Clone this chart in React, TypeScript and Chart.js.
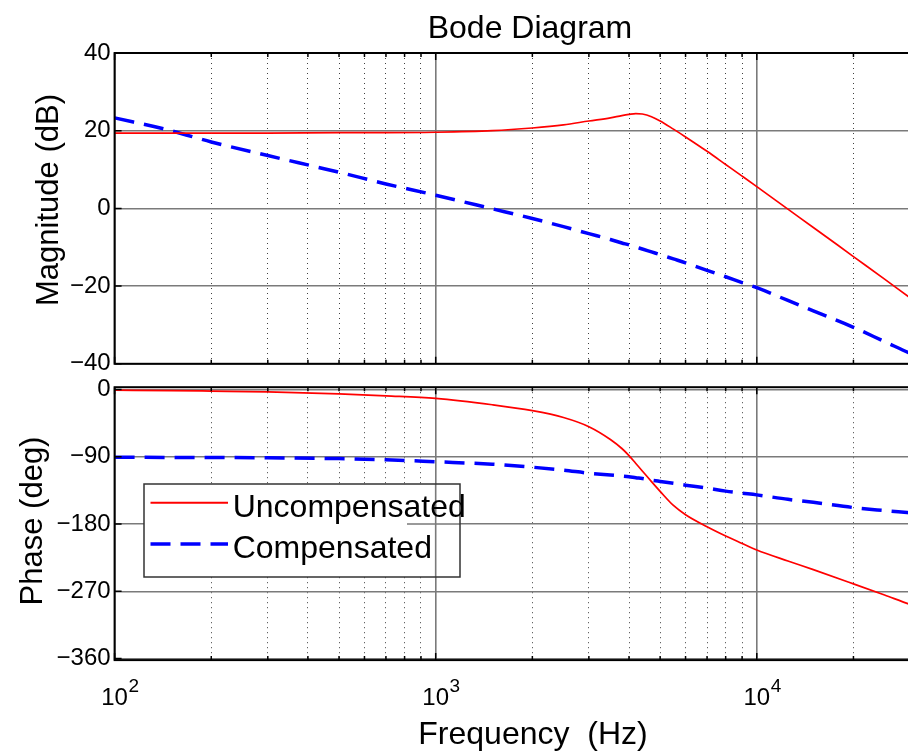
import React, { useEffect, useRef } from 'react';
import { Chart, registerables } from 'chart.js';

Chart.register(...registerables);

const FONT = '"Liberation Sans", Arial, Helvetica, sans-serif';

// Frequencies (Hz)
const freqs = [100, 150, 200, 300, 500, 700, 1000, 1500, 2000, 2500, 3000, 3500, 3800, 4000, 4200, 4400, 4700, 5000, 5500, 6000, 7000, 8000, 9000, 10000, 12500, 15000, 20000, 25000, 30000, 40000];

// Magnitude (dB)
const uncompMag = [19.4, 19.4, 19.4, 19.4, 19.5, 19.5, 19.6, 20.0, 20.7, 21.5, 22.5, 23.3, 23.9, 24.2, 24.4, 24.3, 23.6, 22.5, 20.4, 18.4, 14.7, 11.3, 8.3, 5.6, -0.2, -4.9, -12.4, -18.2, -23.0, -30.5];
const compMag = [23.3, 20.0, 17.1, 13.6, 9.3, 6.3, 3.4, -0.1, -2.6, -4.7, -6.5, -8.0, -8.9, -9.4, -9.95, -10.45, -11.2, -11.9, -13.0, -14.0, -15.95, -17.6, -19.1, -20.4, -23.7, -26.4, -30.6, -34.3, -37.3, -42.3];

// Phase (deg)
const uncompPhase = [-1, -1.5, -2.2, -3.3, -5.8, -8.5, -12, -20.5, -28.4, -37.5, -49.8, -66.9, -79, -88.5, -99, -109, -123.3, -136.3, -155.2, -167.5, -183.6, -196, -206, -214.8, -229.5, -241, -260, -275, -287.5, -305];
const compPhase = [-90.8, -90.9, -91, -91.5, -92.5, -94, -96.7, -100, -104, -108, -112, -114.5, -115.8, -116.7, -118, -119, -121.3, -123, -125.5, -128, -132, -136, -138.7, -141, -147, -151, -158, -162, -165, -170];

// Axis ticks
const magTicks = [-40, -20, 0, 20, 40];
const phaseTicks = [-360, -270, -180, -90, 0];
const decadeTicks = [100, 1000, 10000];
const decadeExponents = ['2', '3', '4'];
const minorMultipliers = [1, 2, 3, 4, 5, 6, 7, 8, 9];
const xTickValues = decadeTicks.flatMap((d) => minorMultipliers.map((m) => m * d)).filter((v) => v <= 40000);

const seriesLabels = ['Uncompensated', 'Compensated'];
const RED = '#ff0000';
const BLUE = '#0000ff';
const GRID = '#7a7a7a';
const BLUE_DASH = [20, 10];

const isMajor = (v: any) => decadeTicks.includes(v);
const fmt = (v: number) => (v < 0 ? '\u2212' + Math.abs(v) : String(v));

function xAxis(height: number) {
  return {
    type: 'logarithmic',
    min: 100,
    max: 40000,
    ticks: { display: false },
    afterBuildTicks: (s: any) => {
      s.ticks = xTickValues.map((v) => ({ value: v }));
    },
    afterFit: (s: any) => {
      s.height = height;
    },
    grid: {
      drawTicks: false,
      color: (c: any) => (isMajor(c.tick?.value) ? GRID : 'rgba(0,0,0,0.75)'),
      lineWidth: (c: any) => (isMajor(c.tick?.value) ? 1.6 : 1),
    },
    border: {
      display: false,
      dash: (c: any) => (c.tick && !isMajor(c.tick.value) ? [1, 4] : []),
    },
  };
}

function yAxis(min: number, max: number, ticks: number[]) {
  return {
    min,
    max,
    afterBuildTicks: (s: any) => {
      s.ticks = ticks.map((v) => ({ value: v }));
    },
    afterFit: (s: any) => {
      s.width = 114.6;
    },
    ticks: {
      padding: 4,
      color: '#000',
      font: { family: FONT, size: 24 },
      callback: (v: any) => fmt(Number(v)),
      autoSkip: false,
    },
    grid: { drawTicks: false, color: GRID, lineWidth: 1.6 },
    border: { display: false },
  };
}

const framePlugin = {
  id: 'frame',
  afterDraw(chart: any) {
    const { ctx, chartArea: ca, scales } = chart;
    ctx.save();
    ctx.strokeStyle = '#000';
    ctx.lineWidth = 1.5;
    ctx.beginPath();
    scales.x.ticks.forEach((t: any) => {
      const px = scales.x.getPixelForValue(t.value);
      const len = isMajor(t.value) ? 7 : 4;
      ctx.moveTo(px, ca.bottom);
      ctx.lineTo(px, ca.bottom - len);
      ctx.moveTo(px, ca.top);
      ctx.lineTo(px, ca.top + len);
    });
    scales.y.ticks.forEach((t: any) => {
      const py = scales.y.getPixelForValue(t.value);
      ctx.moveTo(ca.left, py);
      ctx.lineTo(ca.left + 7, py);
      ctx.moveTo(ca.right, py);
      ctx.lineTo(ca.right - 7, py);
    });
    ctx.stroke();
    ctx.lineWidth = 2;
    ctx.strokeRect(ca.left, ca.top, ca.right - ca.left, ca.bottom - ca.top);
    ctx.restore();
  },
};

function rotatedText(ctx: CanvasRenderingContext2D, text: string, baseX: number, centerY: number) {
  ctx.save();
  ctx.translate(baseX, centerY);
  ctx.rotate(-Math.PI / 2);
  ctx.textAlign = 'center';
  ctx.textBaseline = 'alphabetic';
  ctx.fillText(text, 0, 0);
  ctx.restore();
}

const magTextPlugin = {
  id: 'magText',
  afterDraw(chart: any) {
    const { ctx } = chart;
    ctx.save();
    ctx.fillStyle = '#000';
    ctx.font = `32px ${FONT}`;
    ctx.textAlign = 'center';
    ctx.textBaseline = 'alphabetic';
    ctx.fillText('Bode Diagram', 530, 38);
    ctx.font = `31px ${FONT}`;
    rotatedText(ctx, 'Magnitude (dB)', 58, 200);
    ctx.restore();
  },
};

const PH_TOP = 365;

const phaseTextPlugin = {
  id: 'phaseText',
  afterDraw(chart: any) {
    const { ctx, scales } = chart;
    ctx.save();
    ctx.fillStyle = '#000';
    ctx.font = `31px ${FONT}`;
    rotatedText(ctx, 'Phase (deg)', 42, 521 - PH_TOP);
    ctx.font = `32px ${FONT}`;
    ctx.textAlign = 'center';
    ctx.textBaseline = 'alphabetic';
    ctx.fillText('Frequency  (Hz)', 533, 744 - PH_TOP);

    // decade tick labels 10^n
    decadeTicks.forEach((d, i) => {
      const px = scales.x.getPixelForValue(d);
      ctx.font = `24px ${FONT}`;
      ctx.textAlign = 'center';
      ctx.fillText('10', px, 705 - PH_TOP);
      const w = ctx.measureText('10').width;
      ctx.font = `19px ${FONT}`;
      ctx.textAlign = 'left';
      ctx.fillText(decadeExponents[i], px + w / 2 + 0.5, 692 - PH_TOP);
    });

    // legend
    const bx = 144, by = 484 - PH_TOP, bw = 316, bh = 93;
    ctx.fillStyle = '#fff';
    ctx.fillRect(bx, by, bw, bh);
    // grid lines showing through the legend box, as in the original render
    ctx.strokeStyle = GRID;
    ctx.lineWidth = 1.6;
    ctx.beginPath();
    const x3 = scales.x.getPixelForValue(1000);
    ctx.moveTo(x3, by);
    ctx.lineTo(x3, by + bh);
    const y180 = scales.y.getPixelForValue(-180);
    ctx.moveTo(407, y180);
    ctx.lineTo(bx + bw, y180);
    ctx.stroke();
    ctx.strokeStyle = '#333';
    ctx.lineWidth = 1.5;
    ctx.strokeRect(bx, by, bw, bh);
    ctx.lineWidth = 2;
    ctx.strokeStyle = RED;
    ctx.beginPath();
    ctx.moveTo(150.5, 502.7 - PH_TOP);
    ctx.lineTo(228, 502.7 - PH_TOP);
    ctx.stroke();
    ctx.lineWidth = 3.5;
    ctx.strokeStyle = BLUE;
    ctx.setLineDash(BLUE_DASH);
    ctx.beginPath();
    ctx.moveTo(150.5, 544 - PH_TOP);
    ctx.lineTo(228, 544 - PH_TOP);
    ctx.stroke();
    ctx.setLineDash([]);
    ctx.fillStyle = '#000';
    ctx.font = `32px ${FONT}`;
    ctx.textAlign = 'left';
    ctx.fillText(seriesLabels[0], 232.7, 517 - PH_TOP);
    ctx.fillText(seriesLabels[1], 232.7, 558 - PH_TOP);
    ctx.restore();
  },
};

function datasets(a: number[], b: number[]) {
  return [
    {
      label: seriesLabels[0],
      data: freqs.map((f, i) => ({ x: f, y: a[i] })),
      borderColor: RED,
      borderWidth: 1.7,
      pointRadius: 0,
      cubicInterpolationMode: 'monotone',
      fill: false,
    },
    {
      label: seriesLabels[1],
      data: freqs.map((f, i) => ({ x: f, y: b[i] })),
      borderColor: BLUE,
      borderWidth: 3.5,
      borderDash: BLUE_DASH,
      pointRadius: 0,
      cubicInterpolationMode: 'monotone',
      fill: false,
    },
  ];
}

const commonOptions = (padTop: number) => ({
  responsive: false,
  animation: false,
  devicePixelRatio: 1,
  layout: { padding: { top: padTop, left: 0, right: 9.9, bottom: 0 } },
  plugins: {
    legend: { display: false },
    title: { display: false },
    tooltip: { enabled: false },
  },
  events: [],
});

export default function App() {
  const magRef = useRef<HTMLCanvasElement>(null);
  const phRef = useRef<HTMLCanvasElement>(null);

  useEffect(() => {
    const magChart = new Chart(magRef.current as HTMLCanvasElement, {
      type: 'line',
      data: { datasets: datasets(uncompMag, compMag) as any },
      options: {
        ...(commonOptions(53) as any),
        scales: {
          x: xAxis(390 - 363.8) as any,
          y: yAxis(-40, 40, magTicks) as any,
        },
      },
      plugins: [framePlugin, magTextPlugin],
    });
    const phChart = new Chart(phRef.current as HTMLCanvasElement, {
      type: 'line',
      data: { datasets: datasets(uncompPhase, compPhase) as any },
      options: {
        ...(commonOptions(387.2 - PH_TOP) as any),
        scales: {
          x: xAxis(386 - (660.1 - PH_TOP)) as any,
          y: yAxis(-362, 3, phaseTicks) as any,
        },
      },
      plugins: [framePlugin, phaseTextPlugin],
    });
    return () => {
      magChart.destroy();
      phChart.destroy();
    };
  }, []);

  return (
    <div style={{ position: 'fixed', left: 0, top: 0, width: 908, height: 751, overflow: 'hidden', background: '#fff' }}>
      <canvas ref={magRef} width={960} height={390} style={{ position: 'absolute', left: 0, top: 0 }} />
      <canvas ref={phRef} width={960} height={386} style={{ position: 'absolute', left: 0, top: PH_TOP }} />
    </div>
  );
}
